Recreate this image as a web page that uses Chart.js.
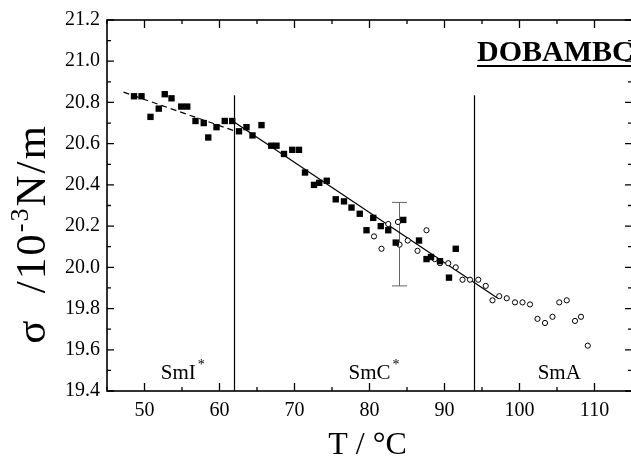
<!DOCTYPE html>
<html>
<head>
<meta charset="utf-8">
<script src="https://cdn.jsdelivr.net/npm/chart.js@4.4.1/dist/chart.umd.min.js"></script>
<style>
  html, body { margin: 0; padding: 0; background: #fff; overflow: hidden; }
  #wrap { width: 640px; height: 460px; }
</style>
</head>
<body>
<div id="wrap"><canvas id="tension" width="640" height="460"></canvas></div>
<script>
// surface tension of DOBAMBC vs temperature
const squareT = [48.6, 49.6, 50.8, 51.9, 52.7, 53.6, 54.9, 55.7, 56.8, 57.9, 58.5, 59.6, 60.7, 61.7,
  62.6, 63.6, 64.4, 65.6, 66.9, 67.6, 68.6, 69.7, 70.6, 71.4, 72.6, 73.3, 74.3, 75.5, 76.6, 77.6,
  78.7, 79.6, 80.5, 81.5, 82.5, 83.5, 84.5, 86.6, 87.6, 88.2, 89.4, 90.6, 91.5];
const squareSigma = [20.83, 20.83, 20.73, 20.77, 20.84, 20.82, 20.78, 20.78, 20.71, 20.70, 20.63, 20.68, 20.71, 20.71,
  20.66, 20.68, 20.64, 20.69, 20.59, 20.59, 20.55, 20.57, 20.57, 20.46, 20.40, 20.41, 20.42, 20.33, 20.32, 20.29,
  20.26, 20.18, 20.24, 20.20, 20.18, 20.12, 20.23, 20.13, 20.04, 20.05, 20.03, 19.95, 20.09];
const circleT = [80.6, 81.6, 82.5, 83.8, 84.0, 85.1, 86.4, 87.6, 88.7, 89.4, 90.5, 91.5, 92.4, 93.4, 94.5,
  95.5, 96.4, 97.3, 98.3, 99.4, 100.4, 101.4, 102.4, 103.4, 104.4, 105.3, 106.3, 107.4, 108.2, 109.1];
const circleSigma = [20.15, 20.09, 20.21, 20.22, 20.11, 20.13, 20.08, 20.18, 20.04, 20.02, 20.02, 20.00, 19.94, 19.94, 19.94,
  19.91, 19.84, 19.86, 19.85, 19.83, 19.83, 19.82, 19.75, 19.73, 19.76, 19.83, 19.84, 19.74, 19.76, 19.62];

// linear fits: dashed in SmI*, solid in SmC*
const dashFitT = [47.2, 62];
const dashFitSigma = [20.85, 20.662];
const solidFitT = [62, 97.1];
const solidFitSigma = [20.704, 19.85];

// phase boundaries and error bar
const boundaryT = [62, 94];
const boundarySigma = [19.4, 20.835];
const errT = 84;
const errSigma = [19.91, 20.315];
const errCap = 1;

const phaseNames = ['SmI', 'SmC', 'SmA'];
const phaseStar = [true, true, false];
const phaseT = [54.5, 80.0, 105.3];
const phaseSigma = 19.457;

const xTickLabels = [50, 60, 70, 80, 90, 100, 110];
const yTickLabels = [19.4, 19.6, 19.8, 20.0, 20.2, 20.4, 20.6, 20.8, 21.0, 21.2];

const SERIF = '"Liberation Serif", "Times New Roman", serif';

const pts = (xs, ys) => xs.map((x, i) => ({ x: x, y: ys[i] }));
const line = (data, extra) => Object.assign({
  data: data, showLine: true, pointRadius: 0, borderColor: '#000',
  borderWidth: 1.2, fill: false, tension: 0
}, extra || {});

const datasets = [
  { data: pts(squareT, squareSigma), pointStyle: 'rect', pointRadius: 4.5,
    backgroundColor: '#000', borderColor: '#000', borderWidth: 0 },
  { data: pts(circleT, circleSigma), pointStyle: 'circle', pointRadius: 2.6,
    backgroundColor: '#fff', borderColor: '#000', borderWidth: 1 },
  line(pts(dashFitT, dashFitSigma), { borderDash: [6, 4] }),
  line(pts(solidFitT, solidFitSigma)),
  line(pts([boundaryT[0], boundaryT[0]], boundarySigma)),
  line(pts([boundaryT[1], boundaryT[1]], boundarySigma)),
  line(pts([errT, errT], errSigma), { borderColor: '#666', borderWidth: 1 }),
  line(pts([errT - errCap, errT + errCap], [errSigma[0], errSigma[0]]), { borderColor: '#666', borderWidth: 1 }),
  line(pts([errT - errCap, errT + errCap], [errSigma[1], errSigma[1]]), { borderColor: '#666', borderWidth: 1 })
];

const isMajorX = v => xTickLabels.includes(Math.round(v));
const isMajorY = v => yTickLabels.some(t => Math.abs(t - v) < 1e-6);

// frame with inward ticks on all four sides, plus text overlays
const framePlugin = {
  id: 'frame',
  afterDraw(chart) {
    const ctx = chart.ctx;
    const a = chart.chartArea;
    const xs = chart.scales.x, ys = chart.scales.y;
    ctx.save();
    ctx.strokeStyle = '#000';
    ctx.lineWidth = 1.6;
    ctx.strokeRect(a.left, a.top, a.right - a.left, a.bottom - a.top);
    ctx.lineWidth = 1.3;
    ctx.beginPath();
    xs.ticks.forEach(t => {
      const px = xs.getPixelForValue(t.value);
      const len = isMajorX(t.value) ? 8 : 4;
      ctx.moveTo(px, a.bottom); ctx.lineTo(px, a.bottom - len);
      ctx.moveTo(px, a.top); ctx.lineTo(px, a.top + len);
    });
    ys.ticks.forEach(t => {
      const py = ys.getPixelForValue(t.value);
      const len = isMajorY(t.value) ? 7 : 4;
      ctx.moveTo(a.left, py); ctx.lineTo(a.left + len, py);
      ctx.moveTo(a.right, py); ctx.lineTo(a.right - len, py);
    });
    ctx.stroke();

    // phase names
    ctx.fillStyle = '#000';
    ctx.textBaseline = 'alphabetic';
    phaseNames.forEach((name, i) => {
      ctx.font = '21px ' + SERIF;
      const w = ctx.measureText(name).width;
      const cx = xs.getPixelForValue(phaseT[i]);
      const by = ys.getPixelForValue(phaseSigma);
      ctx.textAlign = 'left';
      ctx.fillText(name, cx - w / 2, by);
      if (phaseStar[i]) {
        ctx.font = '14px ' + SERIF;
        ctx.fillText('*', cx + w / 2 + 2, by - 10);
      }
    });

    // compound name, bold and underlined
    ctx.font = 'bold 30px ' + SERIF;
    ctx.textAlign = 'left';
    const title = 'DOBAMBC';
    const tx = 477;
    const ty = 61;
    ctx.fillText(title, tx, ty);
    const tw = ctx.measureText(title).width;
    ctx.fillRect(tx, ty + 4, tw, 2);

    // x axis title
    ctx.font = '32px ' + SERIF;
    ctx.textAlign = 'center';
    ctx.fillText('T / °C', (a.left + a.right) / 2 - 2, 454);

    // y axis title, rotated, with superscript exponent
    ctx.translate(45, 234);
    ctx.rotate(-Math.PI / 2);
    ctx.letterSpacing = '2px';
    const parts = [
      { s: 'σ  /10', f: '43px ' + SERIF, dy: 0 },
      { s: '-3', f: '26px ' + SERIF, dy: -17 },
      { s: 'N/m', f: '43px ' + SERIF, dy: 0 }
    ];
    let total = 0;
    parts.forEach(p => { ctx.font = p.f; p.w = ctx.measureText(p.s).width; total += p.w; });
    let cx = -total / 2;
    ctx.textAlign = 'left';
    parts.forEach(p => { ctx.font = p.f; ctx.fillText(p.s, cx, p.dy); cx += p.w; });
    ctx.restore();
  }
};

new Chart(document.getElementById('tension'), {
  type: 'scatter',
  data: { datasets: datasets },
  options: {
    responsive: false,
    animation: false,
    layout: { padding: { top: 20, right: 3, left: 0, bottom: 0 } },
    plugins: { legend: { display: false }, tooltip: { enabled: false } },
    scales: {
      x: {
        type: 'linear', min: 45, max: 115,
        afterFit: s => { s.height = 69; },
        grid: { display: false, drawTicks: false },
        border: { display: false },
        ticks: {
          stepSize: 5, padding: 8, color: '#000', maxRotation: 0, autoSkip: false,
          font: { family: SERIF, size: 20 },
          callback: v => isMajorX(v) ? String(Math.round(v)) : ''
        }
      },
      y: {
        type: 'linear', min: 19.4, max: 21.2,
        afterFit: s => { s.width = 107; },
        grid: { display: false, drawTicks: false },
        border: { display: false },
        ticks: {
          stepSize: 0.1, padding: 7, color: '#000', autoSkip: false,
          font: { family: SERIF, size: 20 },
          callback: v => isMajorY(v) ? v.toFixed(1) : ''
        }
      }
    }
  },
  plugins: [framePlugin]
});
</script>
</body>
</html>
